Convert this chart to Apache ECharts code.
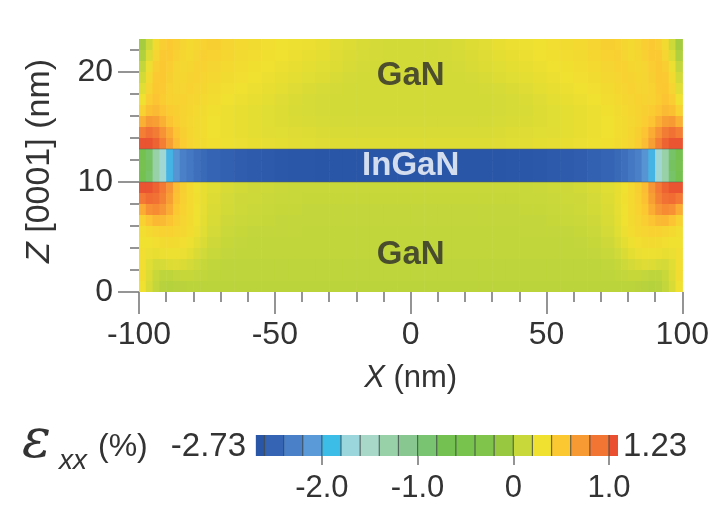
<!DOCTYPE html>
<html>
<head>
<meta charset="utf-8">
<script src="https://cdn.jsdelivr.net/npm/echarts@6/dist/echarts.min.js"></script>
<style>
  html, body { margin: 0; padding: 0; background: #ffffff; }
  #chart { width: 712px; height: 512px; }
</style>
</head>
<body>
<div id="chart"></div>
<script>
// Cell boundaries along X (nm): 2.5 nm steps near the free edges, 5 nm in the middle
const xEdges = [-100, -97.5, -95, -92.5, -90, -87.5, -85, -82.5, -80, -77.5, -75,
  -70, -65, -60, -55, -50, -45, -40, -35, -30, -25, -20, -15, -10, -5, 0,
  5, 10, 15, 20, 25, 30, 35, 40, 45, 50, 55, 60, 65, 70, 75,
  77.5, 80, 82.5, 85, 87.5, 90, 92.5, 95, 97.5, 100];

// Cell boundaries along Z [0001] (nm)
const zEdges = [0, 1, 2, 3, 4, 5, 6, 7, 8, 9, 10, 11, 12, 13, 14, 15, 16, 17, 18, 19, 20, 21, 22, 23];

// In-plane strain εxx (%), one row per 1 nm slab, listed from the top down
// Upper GaN, z = 23 → 13 nm
const strainGaNUpper = [
  [-0.05, 0.12, 0.35, 0.45, 0.48, 0.45, 0.4, 0.36, 0.38, 0.42, 0.44, 0.4, 0.36, 0.34, 0.32, 0.3, 0.29, 0.28, 0.26, 0.23, 0.2, 0.18, 0.16, 0.15, 0.15,
   0.15, 0.15, 0.16, 0.18, 0.2, 0.23, 0.26, 0.28, 0.29, 0.3, 0.32, 0.34, 0.36, 0.4, 0.44, 0.42, 0.38, 0.36, 0.4, 0.45, 0.48, 0.45, 0.35, 0.12, -0.05],
  [0.0, 0.2, 0.4, 0.48, 0.48, 0.43, 0.38, 0.36, 0.4, 0.43, 0.42, 0.38, 0.35, 0.33, 0.31, 0.3, 0.28, 0.26, 0.24, 0.21, 0.19, 0.17, 0.16, 0.15, 0.15,
   0.15, 0.15, 0.16, 0.17, 0.19, 0.21, 0.24, 0.26, 0.28, 0.3, 0.31, 0.33, 0.35, 0.38, 0.42, 0.43, 0.4, 0.36, 0.38, 0.43, 0.48, 0.48, 0.4, 0.2, 0.0],
  [0.08, 0.28, 0.45, 0.5, 0.46, 0.4, 0.37, 0.38, 0.42, 0.42, 0.39, 0.36, 0.33, 0.31, 0.3, 0.28, 0.26, 0.24, 0.22, 0.2, 0.18, 0.16, 0.15, 0.15, 0.15,
   0.15, 0.15, 0.15, 0.16, 0.18, 0.2, 0.22, 0.24, 0.26, 0.28, 0.3, 0.31, 0.33, 0.36, 0.39, 0.42, 0.42, 0.38, 0.37, 0.4, 0.46, 0.5, 0.45, 0.28, 0.08],
  [0.15, 0.35, 0.48, 0.5, 0.44, 0.39, 0.38, 0.41, 0.42, 0.4, 0.37, 0.34, 0.32, 0.3, 0.28, 0.26, 0.24, 0.22, 0.2, 0.18, 0.16, 0.15, 0.15, 0.15, 0.15,
   0.15, 0.15, 0.15, 0.15, 0.16, 0.18, 0.2, 0.22, 0.24, 0.26, 0.28, 0.3, 0.32, 0.34, 0.37, 0.4, 0.42, 0.41, 0.38, 0.39, 0.44, 0.5, 0.48, 0.35, 0.15],
  [0.22, 0.4, 0.5, 0.48, 0.42, 0.39, 0.4, 0.42, 0.4, 0.38, 0.35, 0.32, 0.3, 0.28, 0.26, 0.24, 0.21, 0.19, 0.17, 0.16, 0.15, 0.15, 0.15, 0.15, 0.15,
   0.15, 0.15, 0.15, 0.15, 0.15, 0.16, 0.17, 0.19, 0.21, 0.24, 0.26, 0.28, 0.3, 0.32, 0.35, 0.38, 0.4, 0.42, 0.4, 0.39, 0.42, 0.48, 0.5, 0.4, 0.22],
  [0.3, 0.46, 0.52, 0.47, 0.42, 0.41, 0.42, 0.4, 0.38, 0.36, 0.33, 0.3, 0.28, 0.26, 0.24, 0.21, 0.19, 0.17, 0.16, 0.15, 0.15, 0.15, 0.15, 0.15, 0.15,
   0.15, 0.15, 0.15, 0.15, 0.15, 0.15, 0.16, 0.17, 0.19, 0.21, 0.24, 0.26, 0.28, 0.3, 0.33, 0.36, 0.38, 0.4, 0.42, 0.41, 0.42, 0.47, 0.52, 0.46, 0.3],
  [0.42, 0.54, 0.56, 0.52, 0.47, 0.44, 0.41, 0.38, 0.36, 0.34, 0.31, 0.28, 0.26, 0.24, 0.22, 0.2, 0.18, 0.17, 0.16, 0.15, 0.15, 0.15, 0.15, 0.15, 0.15,
   0.15, 0.15, 0.15, 0.15, 0.15, 0.15, 0.16, 0.17, 0.18, 0.2, 0.22, 0.24, 0.26, 0.28, 0.31, 0.34, 0.36, 0.38, 0.41, 0.44, 0.47, 0.52, 0.56, 0.54, 0.42],
  [0.6, 0.7, 0.68, 0.6, 0.52, 0.46, 0.41, 0.37, 0.35, 0.33, 0.3, 0.28, 0.26, 0.24, 0.22, 0.2, 0.19, 0.18, 0.17, 0.16, 0.16, 0.16, 0.16, 0.16, 0.16,
   0.16, 0.16, 0.16, 0.16, 0.16, 0.16, 0.17, 0.18, 0.19, 0.2, 0.22, 0.24, 0.26, 0.28, 0.3, 0.33, 0.35, 0.37, 0.41, 0.46, 0.52, 0.6, 0.68, 0.7, 0.6],
  [0.85, 0.92, 0.86, 0.74, 0.62, 0.52, 0.44, 0.38, 0.35, 0.33, 0.3, 0.28, 0.26, 0.24, 0.23, 0.22, 0.21, 0.2, 0.19, 0.18, 0.18, 0.18, 0.18, 0.18, 0.18,
   0.18, 0.18, 0.18, 0.18, 0.18, 0.18, 0.19, 0.2, 0.21, 0.22, 0.23, 0.24, 0.26, 0.28, 0.3, 0.33, 0.35, 0.38, 0.44, 0.52, 0.62, 0.74, 0.86, 0.92, 0.85],
  [1.08, 1.08, 1.0, 0.85, 0.68, 0.55, 0.46, 0.4, 0.36, 0.34, 0.31, 0.29, 0.27, 0.26, 0.25, 0.24, 0.23, 0.22, 0.21, 0.2, 0.2, 0.2, 0.2, 0.2, 0.2,
   0.2, 0.2, 0.2, 0.2, 0.2, 0.2, 0.21, 0.22, 0.23, 0.24, 0.25, 0.26, 0.27, 0.29, 0.31, 0.34, 0.36, 0.4, 0.46, 0.55, 0.68, 0.85, 1.0, 1.08, 1.08]
];

// InGaN quantum well, z = 13 → 10 nm
const strainInGaN = [
  [-0.65, -0.85, -1.3, -1.6, -1.95, -2.15, -2.3, -2.36, -2.42, -2.46, -2.5, -2.55, -2.6, -2.63, -2.65, -2.67, -2.68, -2.69, -2.7, -2.7, -2.7, -2.7, -2.7, -2.7, -2.7,
   -2.7, -2.7, -2.7, -2.7, -2.7, -2.7, -2.7, -2.69, -2.68, -2.67, -2.65, -2.63, -2.6, -2.55, -2.5, -2.46, -2.42, -2.36, -2.3, -2.15, -1.95, -1.6, -1.3, -0.85, -0.65],
  [-0.6, -0.8, -1.3, -1.62, -1.95, -2.15, -2.3, -2.36, -2.42, -2.46, -2.5, -2.55, -2.6, -2.63, -2.65, -2.67, -2.68, -2.69, -2.7, -2.7, -2.7, -2.7, -2.7, -2.7, -2.7,
   -2.7, -2.7, -2.7, -2.7, -2.7, -2.7, -2.7, -2.69, -2.68, -2.67, -2.65, -2.63, -2.6, -2.55, -2.5, -2.46, -2.42, -2.36, -2.3, -2.15, -1.95, -1.62, -1.3, -0.8, -0.6],
  [-0.65, -0.85, -1.3, -1.6, -1.95, -2.15, -2.3, -2.36, -2.42, -2.46, -2.5, -2.55, -2.6, -2.63, -2.65, -2.67, -2.68, -2.69, -2.7, -2.7, -2.7, -2.7, -2.7, -2.7, -2.7,
   -2.7, -2.7, -2.7, -2.7, -2.7, -2.7, -2.7, -2.69, -2.68, -2.67, -2.65, -2.63, -2.6, -2.55, -2.5, -2.46, -2.42, -2.36, -2.3, -2.15, -1.95, -1.6, -1.3, -0.85, -0.65]
];

// Lower GaN, z = 10 → 0 nm
const strainGaNLower = [
  [1.08, 1.08, 1.0, 0.88, 0.72, 0.55, 0.44, 0.36, 0.3, 0.26, 0.22, 0.18, 0.15, 0.13, 0.12, 0.11, 0.1, 0.1, 0.1, 0.1, 0.1, 0.1, 0.1, 0.1, 0.1,
   0.1, 0.1, 0.1, 0.1, 0.1, 0.1, 0.1, 0.1, 0.1, 0.11, 0.12, 0.13, 0.15, 0.18, 0.22, 0.26, 0.3, 0.36, 0.44, 0.55, 0.72, 0.88, 1.0, 1.08, 1.08],
  [0.88, 0.95, 0.92, 0.83, 0.68, 0.53, 0.43, 0.36, 0.31, 0.26, 0.2, 0.16, 0.13, 0.12, 0.11, 0.1, 0.1, 0.09, 0.09, 0.09, 0.09, 0.09, 0.09, 0.09, 0.09,
   0.09, 0.09, 0.09, 0.09, 0.09, 0.09, 0.09, 0.09, 0.1, 0.1, 0.11, 0.12, 0.13, 0.16, 0.2, 0.26, 0.31, 0.36, 0.43, 0.53, 0.68, 0.83, 0.92, 0.95, 0.88],
  [0.62, 0.75, 0.78, 0.72, 0.62, 0.5, 0.42, 0.36, 0.3, 0.25, 0.19, 0.15, 0.12, 0.11, 0.1, 0.09, 0.09, 0.08, 0.08, 0.08, 0.08, 0.08, 0.08, 0.08, 0.08,
   0.08, 0.08, 0.08, 0.08, 0.08, 0.08, 0.08, 0.08, 0.09, 0.09, 0.1, 0.11, 0.12, 0.15, 0.19, 0.25, 0.3, 0.36, 0.42, 0.5, 0.62, 0.72, 0.78, 0.75, 0.62],
  [0.42, 0.52, 0.57, 0.56, 0.52, 0.45, 0.4, 0.35, 0.3, 0.24, 0.18, 0.13, 0.11, 0.1, 0.09, 0.08, 0.08, 0.08, 0.08, 0.08, 0.08, 0.08, 0.08, 0.08, 0.08,
   0.08, 0.08, 0.08, 0.08, 0.08, 0.08, 0.08, 0.08, 0.08, 0.08, 0.09, 0.1, 0.11, 0.13, 0.18, 0.24, 0.3, 0.35, 0.4, 0.45, 0.52, 0.56, 0.57, 0.52, 0.42],
  [0.32, 0.36, 0.4, 0.42, 0.42, 0.4, 0.37, 0.33, 0.28, 0.22, 0.16, 0.11, 0.09, 0.08, 0.08, 0.08, 0.08, 0.07, 0.07, 0.07, 0.07, 0.07, 0.07, 0.07, 0.07,
   0.07, 0.07, 0.07, 0.07, 0.07, 0.07, 0.07, 0.07, 0.08, 0.08, 0.08, 0.08, 0.09, 0.11, 0.16, 0.22, 0.28, 0.33, 0.37, 0.4, 0.42, 0.42, 0.4, 0.36, 0.32],
  [0.3, 0.3, 0.32, 0.34, 0.35, 0.34, 0.32, 0.29, 0.24, 0.19, 0.13, 0.09, 0.08, 0.07, 0.07, 0.07, 0.07, 0.07, 0.07, 0.07, 0.07, 0.07, 0.07, 0.07, 0.07,
   0.07, 0.07, 0.07, 0.07, 0.07, 0.07, 0.07, 0.07, 0.07, 0.07, 0.07, 0.07, 0.08, 0.09, 0.13, 0.19, 0.24, 0.29, 0.32, 0.34, 0.35, 0.34, 0.32, 0.3, 0.3],
  [0.32, 0.27, 0.26, 0.28, 0.29, 0.29, 0.27, 0.24, 0.19, 0.14, 0.1, 0.08, 0.07, 0.07, 0.07, 0.07, 0.07, 0.07, 0.07, 0.07, 0.07, 0.07, 0.07, 0.07, 0.07,
   0.07, 0.07, 0.07, 0.07, 0.07, 0.07, 0.07, 0.07, 0.07, 0.07, 0.07, 0.07, 0.07, 0.08, 0.1, 0.14, 0.19, 0.24, 0.27, 0.29, 0.29, 0.28, 0.26, 0.27, 0.32],
  [0.32, 0.22, 0.16, 0.17, 0.2, 0.21, 0.19, 0.16, 0.12, 0.09, 0.07, 0.06, 0.06, 0.06, 0.06, 0.06, 0.06, 0.06, 0.06, 0.06, 0.06, 0.06, 0.06, 0.06, 0.06,
   0.06, 0.06, 0.06, 0.06, 0.06, 0.06, 0.06, 0.06, 0.06, 0.06, 0.06, 0.06, 0.06, 0.06, 0.07, 0.09, 0.12, 0.16, 0.19, 0.21, 0.2, 0.17, 0.16, 0.22, 0.32],
  [0.33, 0.2, 0.1, 0.06, 0.06, 0.08, 0.09, 0.09, 0.08, 0.07, 0.06, 0.06, 0.06, 0.06, 0.06, 0.06, 0.06, 0.06, 0.06, 0.06, 0.06, 0.06, 0.06, 0.06, 0.06,
   0.06, 0.06, 0.06, 0.06, 0.06, 0.06, 0.06, 0.06, 0.06, 0.06, 0.06, 0.06, 0.06, 0.06, 0.06, 0.07, 0.08, 0.09, 0.09, 0.08, 0.06, 0.06, 0.1, 0.2, 0.33],
  [0.3, 0.18, 0.08, 0.03, 0.02, 0.03, 0.04, 0.05, 0.05, 0.05, 0.05, 0.05, 0.05, 0.05, 0.05, 0.05, 0.05, 0.05, 0.05, 0.05, 0.05, 0.05, 0.05, 0.05, 0.05,
   0.05, 0.05, 0.05, 0.05, 0.05, 0.05, 0.05, 0.05, 0.05, 0.05, 0.05, 0.05, 0.05, 0.05, 0.05, 0.05, 0.05, 0.05, 0.04, 0.03, 0.02, 0.03, 0.08, 0.18, 0.3]
];

// Well boundaries (nm) and the lateral span they run across
const wellBottom = 10;
const wellTop = 13;
const xSpan = [-100, 100];

// Axis ticks
const xTicksMajor = [-100, -50, 0, 50, 100];
const zTicksMajor = [0, 10, 20];
const zTicksMinor = [2, 4, 6, 8, 12, 14, 16, 18, 22];

// Colour scale: stated range, drawn extent of the bar, level of each band, labelled ticks
const strainMin = -2.73;
const strainMax = 1.23;
const colorbarExtent = [-2.69, 1.09];
const colorbarLevels = [-2.7, -2.5, -2.3, -2.1, -1.9, -1.7, -1.5, -1.3, -1.1, -0.9,
  -0.7, -0.5, -0.3, -0.1, 0.1, 0.3, 0.5, 0.7, 0.9, 1.1];
const colorbarTicks = [-2, -1, 0, 1];

// Region labels
const layerLabels = [
  { name: 'GaN', x: 0, z: 19.6, color: '#2b2b2b' },
  { name: 'InGaN', x: 0, z: 11.5, color: '#ffffff' },
  { name: 'GaN', x: 0, z: 3.4, color: '#2b2b2b' }
];

// Band colours, one per colour-bar level
const palette = ['#2a56a8', '#3564b4', '#4a80c8', '#5a9ad8', '#3cbde8', '#9ad6dc', '#a8d8c8', '#98d0a8',
  '#88c890', '#78c470', '#74c050', '#78c24e', '#80c44c', '#98c840', '#c8d83a', '#f0e030',
  '#fcc832', '#f89a34', '#f27534', '#ea5030'];

// ---- build cells: [x0, x1, z0, z1, value] ----
const strainRows = strainGaNUpper.concat(strainInGaN, strainGaNLower);
const nRows = strainRows.length;
const mapCells = [];
strainRows.forEach(function (row, r) {
  const z0 = zEdges[nRows - 1 - r];
  const z1 = zEdges[nRows - r];
  row.forEach(function (v, c) {
    mapCells.push([xEdges[c], xEdges[c + 1], z0, z1, v]);
  });
});

const barCells = colorbarLevels.map(function (lv) {
  return [Math.max(lv - 0.1, colorbarExtent[0]), Math.min(lv + 0.1, colorbarExtent[1]), 0, 1, lv];
});

const wellLines = [[xSpan[0], wellTop], [xSpan[1], wellTop], '-', [xSpan[0], wellBottom], [xSpan[1], wellBottom]];

const FONT = 'Liberation Sans, Arial, Helvetica, sans-serif';
const INK = '#333333';
const TICK = { color: '#7a7a7a', width: 1.6 };
const NO_LINE = { show: false, onZero: false };

function renderMapCell(params, api) {
  const a = api.coord([api.value(0), api.value(3)]);
  const b = api.coord([api.value(1), api.value(2)]);
  return {
    type: 'rect',
    shape: { x: a[0], y: a[1], width: b[0] - a[0] + 0.6, height: b[1] - a[1] + 0.6 },
    style: { fill: api.visual('color') }
  };
}

function renderBarCell(params, api) {
  const a = api.coord([api.value(0), api.value(3)]);
  const b = api.coord([api.value(1), api.value(2)]);
  const children = [{
    type: 'rect',
    shape: { x: a[0], y: a[1], width: b[0] - a[0] + 0.4, height: b[1] - a[1] },
    style: { fill: api.visual('color') }
  }];
  if (params.dataIndex > 0) {
    children.push({
      type: 'line',
      shape: { x1: a[0], y1: a[1], x2: a[0], y2: b[1] },
      style: { stroke: 'rgba(60,70,70,0.75)', lineWidth: 1.2 }
    });
  }
  return { type: 'group', children: children };
}

const chart = echarts.init(document.getElementById('chart'), null, { renderer: 'canvas' });

chart.setOption({
  animation: false,
  backgroundColor: '#ffffff',
  textStyle: { fontFamily: FONT },
  grid: [
    { left: 139, right: 26, top: 39, bottom: 220 },
    { left: 252, right: 81, top: 435, height: 21 }
  ],
  xAxis: [
    {
      gridIndex: 0, type: 'value', min: xSpan[0], max: xSpan[1], interval: 50,
      axisLine: NO_LINE, splitLine: { show: false },
      axisTick: { show: true, length: 22, lineStyle: TICK },
      minorTick: { show: true, splitNumber: 5, length: 10, lineStyle: TICK },
      axisLabel: { fontSize: 32, color: INK, margin: 27, fontFamily: FONT },
      name: '{i|X} (nm)', nameLocation: 'middle', nameGap: 71,
      nameTextStyle: {
        fontSize: 31, color: INK, fontFamily: FONT,
        rich: { i: { fontSize: 31, fontStyle: 'italic', color: INK, fontFamily: FONT } }
      }
    },
    {
      gridIndex: 1, type: 'value', min: strainMin, max: strainMax,
      axisLine: NO_LINE, splitLine: { show: false },
      axisTick: { show: true, customValues: colorbarTicks, length: 9, lineStyle: TICK },
      axisLabel: {
        customValues: colorbarTicks, fontSize: 31, color: INK, margin: 17, fontFamily: FONT,
        formatter: function (v) { return v === 0 ? '0' : v.toFixed(1); }
      }
    }
  ],
  yAxis: [
    {
      gridIndex: 0, type: 'value', min: 0, max: 23, position: 'left',
      axisLine: NO_LINE, splitLine: { show: false },
      axisTick: { show: true, customValues: zTicksMajor, length: 21, lineStyle: TICK },
      axisLabel: { customValues: zTicksMajor, fontSize: 32, color: INK, margin: 26, fontFamily: FONT }
    },
    {
      gridIndex: 0, type: 'value', min: 0, max: 23, position: 'left', offset: 0,
      axisLine: NO_LINE, splitLine: { show: false },
      axisTick: { show: true, customValues: zTicksMinor, length: 9, lineStyle: TICK },
      axisLabel: { show: false }
    },
    {
      gridIndex: 1, type: 'value', min: 0, max: 1, show: false, axisLine: NO_LINE
    }
  ],
  visualMap: {
    type: 'continuous', show: false,
    min: colorbarLevels[0], max: colorbarLevels[colorbarLevels.length - 1],
    dimension: 4, seriesIndex: [0, 1],
    inRange: { color: palette }
  },
  series: [
    {
      type: 'custom', xAxisIndex: 0, yAxisIndex: 0, clip: true,
      renderItem: renderMapCell,
      encode: { x: [0, 1], y: [2, 3] },
      data: mapCells,
      silent: true
    },
    {
      type: 'custom', xAxisIndex: 1, yAxisIndex: 2,
      renderItem: renderBarCell,
      encode: { x: [0, 1], y: [2, 3] },
      data: barCells,
      silent: true
    },
    {
      type: 'line', xAxisIndex: 0, yAxisIndex: 0,
      data: wellLines, showSymbol: false, symbol: 'none', silent: true,
      connectNulls: false,
      lineStyle: { color: 'rgba(90,95,90,0.5)', width: 1 }
    },
    {
      type: 'scatter', xAxisIndex: 0, yAxisIndex: 0,
      symbolSize: 0, silent: true,
      data: layerLabels.map(function (d) {
        return { value: [d.x, d.z], name: d.name, label: { color: d.color } };
      }),
      label: {
        show: true, position: 'inside', formatter: '{b}',
        fontSize: 33, fontWeight: 'bold', fontFamily: FONT
      }
    }
  ],
  graphic: [
    {
      type: 'text', x: 40, y: 161, rotation: Math.PI / 2,
      style: {
        text: '{i|Z} [0001] (nm)', font: '34px ' + FONT, fill: INK,
        align: 'center', verticalAlign: 'middle',
        rich: { i: { fontSize: 34, fontStyle: 'italic', fill: INK, fontFamily: FONT } }
      }
    },
    {
      type: 'text', left: 22, top: 416,
      style: { text: 'ε', font: 'italic 54px "DejaVu Serif", serif', fill: INK }
    },
    {
      type: 'text', left: 59, top: 447,
      style: { text: 'xx', font: 'italic 28px ' + FONT, fill: INK }
    },
    {
      type: 'text', left: 98, top: 431,
      style: { text: '(%)', font: '32px ' + FONT, fill: INK }
    },
    {
      type: 'text', right: 712 - 246, top: 430,
      style: { text: strainMin.toFixed(2), font: '33px ' + FONT, fill: INK, align: 'right' }
    },
    {
      type: 'text', left: 623, top: 430,
      style: { text: strainMax.toFixed(2), font: '33px ' + FONT, fill: INK }
    }
  ]
});
</script>
</body>
</html>
